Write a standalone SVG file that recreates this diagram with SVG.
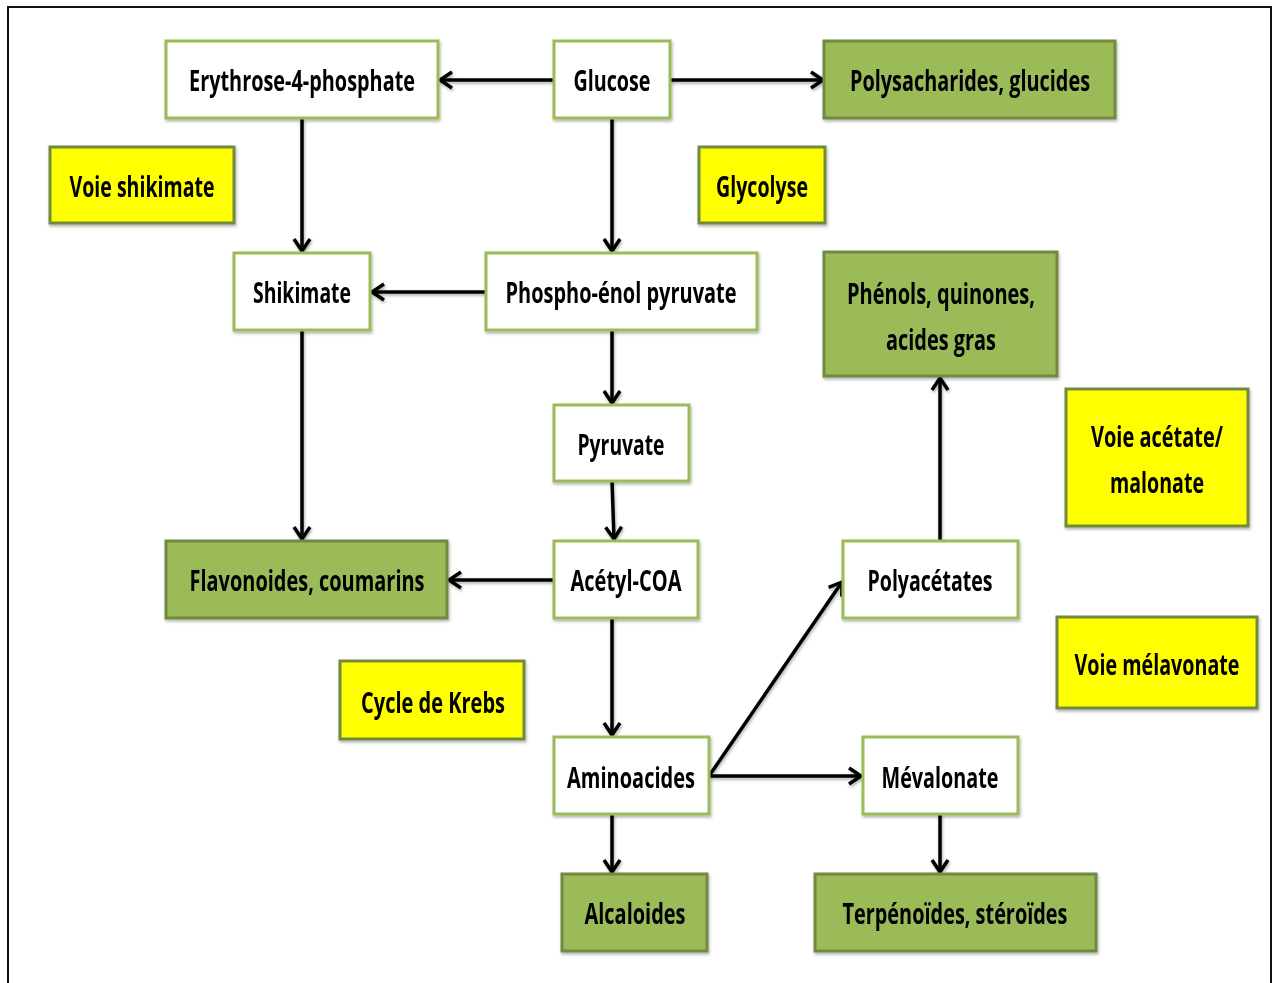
<svg xmlns="http://www.w3.org/2000/svg" width="1278" height="983" viewBox="0 0 1278 983">
<defs>
<filter id="sh" x="-10%" y="-10%" width="130%" height="140%">
<feDropShadow dx="1" dy="2" stdDeviation="1.5" flood-color="#000" flood-opacity="0.3"/>
</filter>
<marker id="ah" viewBox="0 0 16 20" refX="14" refY="10" markerWidth="16" markerHeight="20" markerUnits="userSpaceOnUse" orient="auto">
<path d="M2,2 L14,10 L2,18" fill="none" stroke="#000" stroke-width="3.5"/>
</marker>
<style>
.w{fill:#fff;stroke:#9BBB59;stroke-width:3}
.g{fill:#9BBB59;stroke:#71893F;stroke-width:3}
.y{fill:#FFFF00;stroke:#71893F;stroke-width:3}
text{font-family:"Open Sans","Liberation Sans",sans-serif;font-weight:700;font-size:29px;fill:#000;text-anchor:middle}
.c line{stroke:#000;stroke-width:3.5;marker-end:url(#ah)}
</style>
</defs>
<rect width="1278" height="983" fill="#fff"/>
<path d="M8,983 L8,7 L1271,7 L1271,983" fill="none" stroke="#111" stroke-width="2"/>

<g class="c" filter="url(#sh)">
<line x1="554" y1="80" x2="440" y2="80"/>
<line x1="670" y1="80" x2="823" y2="80"/>
<line x1="302" y1="118" x2="302" y2="251"/>
<line x1="612" y1="118" x2="612" y2="251"/>
<line x1="486" y1="292" x2="372" y2="292"/>
<line x1="612" y1="330" x2="612" y2="403"/>
<line x1="302" y1="330" x2="302" y2="539"/>
<line x1="612" y1="481" x2="614" y2="539"/>
<line x1="554" y1="580" x2="449" y2="580"/>
<line x1="612" y1="618" x2="612" y2="735"/>
<line x1="709" y1="776" x2="842" y2="582"/>
<line x1="709" y1="776" x2="861" y2="776"/>
<line x1="612" y1="814" x2="612" y2="872"/>
<line x1="940" y1="814" x2="940" y2="872"/>
<line x1="940" y1="541" x2="940" y2="378"/>
</g>

<g id="erythrose" filter="url(#sh)"><rect class="w" x="166" y="41" width="272" height="77"/><text x="302" y="91" textLength="226" lengthAdjust="spacingAndGlyphs">Erythrose-4-phosphate</text></g>
<g id="glucose" filter="url(#sh)"><rect class="w" x="554" y="41" width="116" height="77"/><text x="612" y="91" textLength="77" lengthAdjust="spacingAndGlyphs">Glucose</text></g>
<g id="polysacharides" filter="url(#sh)"><rect class="g" x="824" y="41" width="291" height="77"/><text x="970" y="91" textLength="240" lengthAdjust="spacingAndGlyphs">Polysacharides, glucides</text></g>
<g id="voie-shikimate" filter="url(#sh)"><rect class="y" x="50" y="147" width="184" height="76"/><text x="142" y="197" textLength="145" lengthAdjust="spacingAndGlyphs">Voie shikimate</text></g>
<g id="glycolyse" filter="url(#sh)"><rect class="y" x="699" y="147" width="126" height="76"/><text x="762" y="197" textLength="92" lengthAdjust="spacingAndGlyphs">Glycolyse</text></g>
<g id="shikimate" filter="url(#sh)"><rect class="w" x="234" y="253" width="136" height="77"/><text x="302" y="303" textLength="98" lengthAdjust="spacingAndGlyphs">Shikimate</text></g>
<g id="pep" filter="url(#sh)"><rect class="w" x="486" y="253" width="271" height="77"/><text x="621" y="303" textLength="231" lengthAdjust="spacingAndGlyphs">Phospho-énol pyruvate</text></g>
<g id="phenols" filter="url(#sh)"><rect class="g" x="824" y="252" width="233" height="124"/><text x="941" y="304" textLength="188" lengthAdjust="spacingAndGlyphs">Phénols, quinones,</text><text x="941" y="350" textLength="110" lengthAdjust="spacingAndGlyphs">acides gras</text></g>
<g id="voie-acetate" filter="url(#sh)"><rect class="y" x="1066" y="389" width="182" height="137"/><text x="1157" y="447" textLength="132" lengthAdjust="spacingAndGlyphs">Voie acétate/</text><text x="1157" y="493" textLength="94" lengthAdjust="spacingAndGlyphs">malonate</text></g>
<g id="pyruvate" filter="url(#sh)"><rect class="w" x="554" y="405" width="135" height="76"/><text x="621" y="455" textLength="87" lengthAdjust="spacingAndGlyphs">Pyruvate</text></g>
<g id="acetyl-coa" filter="url(#sh)"><rect class="w" x="554" y="541" width="144" height="77"/><text x="626" y="591" textLength="111" lengthAdjust="spacingAndGlyphs">Acétyl-COA</text></g>
<g id="flavonoides" filter="url(#sh)"><rect class="g" x="166" y="541" width="281" height="77"/><text x="307" y="591" textLength="235" lengthAdjust="spacingAndGlyphs">Flavonoides, coumarins</text></g>
<g id="polyacetates" filter="url(#sh)"><rect class="w" x="843" y="541" width="175" height="77"/><text x="930" y="591" textLength="125" lengthAdjust="spacingAndGlyphs">Polyacétates</text></g>
<g id="voie-melavonate" filter="url(#sh)"><rect class="y" x="1057" y="617" width="200" height="91"/><text x="1157" y="675" textLength="165" lengthAdjust="spacingAndGlyphs">Voie mélavonate</text></g>
<g id="krebs" filter="url(#sh)"><rect class="y" x="340" y="661" width="184" height="78"/><text x="433" y="713" textLength="144" lengthAdjust="spacingAndGlyphs">Cycle de Krebs</text></g>
<g id="aminoacides" filter="url(#sh)"><rect class="w" x="554" y="737" width="155" height="77"/><text x="631" y="788" textLength="128" lengthAdjust="spacingAndGlyphs">Aminoacides</text></g>
<g id="mevalonate" filter="url(#sh)"><rect class="w" x="863" y="737" width="155" height="77"/><text x="940" y="788" textLength="117" lengthAdjust="spacingAndGlyphs">Mévalonate</text></g>
<g id="alcaloides" filter="url(#sh)"><rect class="g" x="562" y="874" width="145" height="77"/><text x="635" y="924" textLength="101" lengthAdjust="spacingAndGlyphs">Alcaloides</text></g>
<g id="terpenoides" filter="url(#sh)"><rect class="g" x="815" y="874" width="281" height="77"/><text x="955" y="924" textLength="225" lengthAdjust="spacingAndGlyphs">Terpénoïdes, stéroïdes</text></g>
</svg>
